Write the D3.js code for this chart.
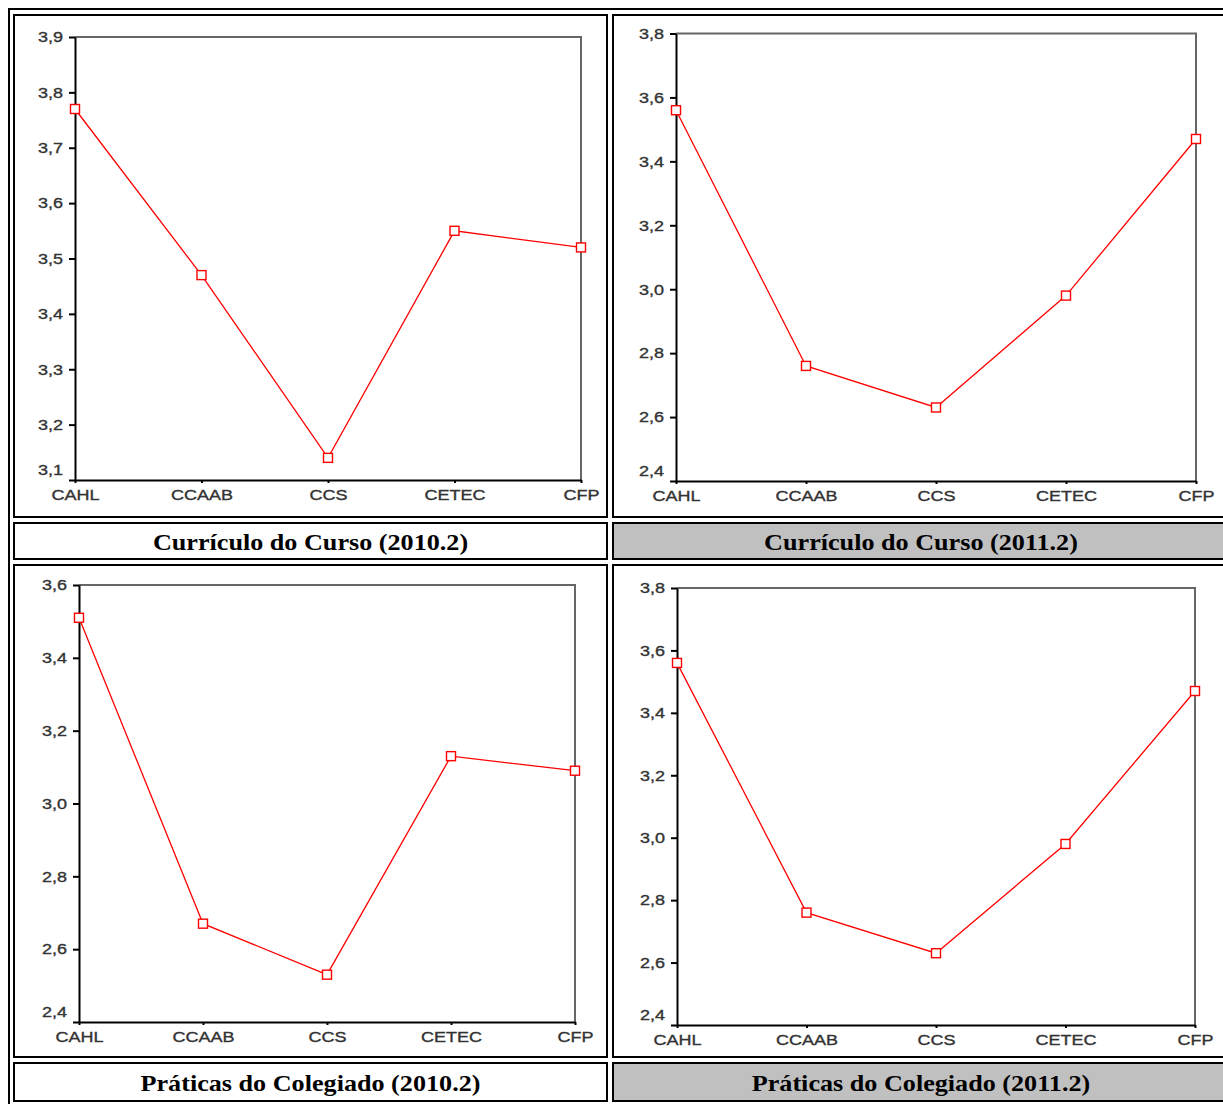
<!DOCTYPE html>
<html>
<head>
<meta charset="utf-8">
<script src="https://cdn.jsdelivr.net/npm/d3@7"></script>
<style>
  body { margin: 0; background: #fff; }
  svg { display: block; }
</style>
</head>
<body>
<svg id="chart" width="1223" height="1104"></svg>
<script>
// ---- data ----
const categories = ["CAHL", "CCAAB", "CCS", "CETEC", "CFP"];
const curriculo2010 = [3.77, 3.47, 3.14, 3.55, 3.52];
const curriculo2011 = [3.56, 2.76, 2.63, 2.98, 3.47];
const colegiado2010 = [3.51, 2.67, 2.53, 3.13, 3.09];
const colegiado2011 = [3.56, 2.76, 2.63, 2.98, 3.47];
const ticksCurriculo2010 = [3.1, 3.2, 3.3, 3.4, 3.5, 3.6, 3.7, 3.8, 3.9];
const ticksCurriculo2011 = [2.4, 2.6, 2.8, 3.0, 3.2, 3.4, 3.6, 3.8];
const ticksColegiado2010 = [2.4, 2.6, 2.8, 3.0, 3.2, 3.4, 3.6];
const ticksColegiado2011 = [2.4, 2.6, 2.8, 3.0, 3.2, 3.4, 3.6, 3.8];
const titles = [
  "Currículo do Curso (2010.2)",
  "Currículo do Curso (2011.2)",
  "Práticas do Colegiado (2010.2)",
  "Práticas do Colegiado (2011.2)"
];

// ---- table layout (cell outer edges) ----
const cols = [[13, 608], [612, 1230]];
const rows = [[14, 518], [522, 560], [564, 1058], [1062, 1102]];

const panels = [
  { values: curriculo2010, ticks: ticksCurriculo2010, col: 0, row: 0, shaded: false,
    x0: 75, x1: 581, yTop: 37, yBot: 480, title: titles[0] },
  { values: curriculo2011, ticks: ticksCurriculo2011, col: 1, row: 0, shaded: true,
    x0: 676, x1: 1196, yTop: 33.5, yBot: 481, title: titles[1] },
  { values: colegiado2010, ticks: ticksColegiado2010, col: 0, row: 2, shaded: false,
    x0: 79, x1: 575, yTop: 585, yBot: 1022, title: titles[2] },
  { values: colegiado2011, ticks: ticksColegiado2011, col: 1, row: 2, shaded: true,
    x0: 677, x1: 1195, yTop: 588, yBot: 1025, title: titles[3] }
];

const ptBR = d3.formatLocale({ decimal: ",", thousands: ".", grouping: [3], currency: ["R$", ""] });
const fmt = ptBR.format(".1f");

const svg = d3.select("#chart");
const SX = 1.2;      // horizontal stretch of the axis lettering
const TSX = 1.09;    // horizontal stretch of the caption lettering

// outer table frame
svg.append("rect")
  .attr("x", 9).attr("y", 9).attr("width", 1260).attr("height", 1130)
  .attr("fill", "none").attr("stroke", "#000").attr("stroke-width", 2);

function cell(col, row, fill) {
  const [xa, xb] = cols[col], [ya, yb] = rows[row];
  svg.append("rect")
    .attr("x", xa + 1).attr("y", ya + 1)
    .attr("width", xb - xa - 2).attr("height", yb - ya - 2)
    .attr("fill", fill).attr("stroke", "#000").attr("stroke-width", 2);
}

function axisText(sel) {
  sel.attr("font-family", "'Liberation Sans', Arial, sans-serif")
    .attr("font-size", 15)
    .attr("fill", "#333")
    .attr("stroke", "#333")
    .attr("stroke-width", 0.35);
}

panels.forEach(p => {
  cell(p.col, p.row, "#fff");
  cell(p.col, p.row + 1, p.shaded ? "#c0c0c0" : "#fff");

  // caption
  const [xa, xb] = cols[p.col], [ya, yb] = rows[p.row + 1];
  svg.append("g")
    .attr("transform", `translate(${(xa + xb) / 2},${(ya + yb) / 2 + 1})`)
    .append("text")
    .attr("transform", `scale(${TSX},1)`)
    .attr("text-anchor", "middle")
    .attr("dominant-baseline", "central")
    .attr("font-family", "'Liberation Serif', 'Times New Roman', serif")
    .attr("font-weight", "bold")
    .attr("font-size", 24)
    .attr("fill", "#000")
    .text(p.title);

  const x = d3.scalePoint().domain(categories).range([p.x0, p.x1]).padding(0);
  const y = d3.scaleLinear()
    .domain([p.ticks[0], p.ticks[p.ticks.length - 1]])
    .range([p.yBot, p.yTop]);

  const g = svg.append("g");

  // top and right frame of the plot area
  g.append("path")
    .attr("d", `M${p.x0},${p.yTop}H${p.x1}V${p.yBot}`)
    .attr("fill", "none").attr("stroke", "#666").attr("stroke-width", 2);

  // y axis
  const ya2 = g.append("g")
    .attr("transform", `translate(${p.x0},0)`)
    .call(d3.axisLeft(y).tickValues(p.ticks).tickFormat(fmt)
      .tickSize(6).tickPadding(6).tickSizeOuter(0));
  ya2.select(".domain").attr("stroke", "#000").attr("stroke-width", 2);
  ya2.selectAll(".tick line").attr("stroke", "#000").attr("stroke-width", 2);
  ya2.selectAll(".tick text")
    .attr("x", -12 / SX)
    .attr("transform", `scale(${SX},1)`)
    .call(axisText)
    .filter(d => d === p.ticks[0])
    .attr("y", -10);

  // x axis
  const xa2 = g.append("g")
    .attr("transform", `translate(0,${p.yBot})`)
    .call(d3.axisBottom(x).tickSize(3).tickPadding(0).tickSizeOuter(0));
  xa2.select(".domain").attr("stroke", "#000").attr("stroke-width", 2);
  xa2.selectAll(".tick line").attr("stroke", "#000").attr("stroke-width", 2);
  xa2.selectAll(".tick text")
    .attr("y", 20).attr("dy", 0)
    .attr("transform", `scale(${SX},1)`)
    .call(axisText);

  // series line
  const line = d3.line()
    .x((d, i) => x(categories[i]))
    .y(d => y(d));
  g.append("path")
    .datum(p.values)
    .attr("d", line)
    .attr("fill", "none").attr("stroke", "#ff0000").attr("stroke-width", 1.3);

  // square markers
  g.selectAll("rect.marker")
    .data(p.values)
    .join("rect")
    .attr("class", "marker")
    .attr("x", (d, i) => x(categories[i]) - 4.5)
    .attr("y", d => y(d) - 4.5)
    .attr("width", 9).attr("height", 9)
    .attr("fill", "#fff").attr("stroke", "#ff0000").attr("stroke-width", 1.4);
});
</script>
</body>
</html>
